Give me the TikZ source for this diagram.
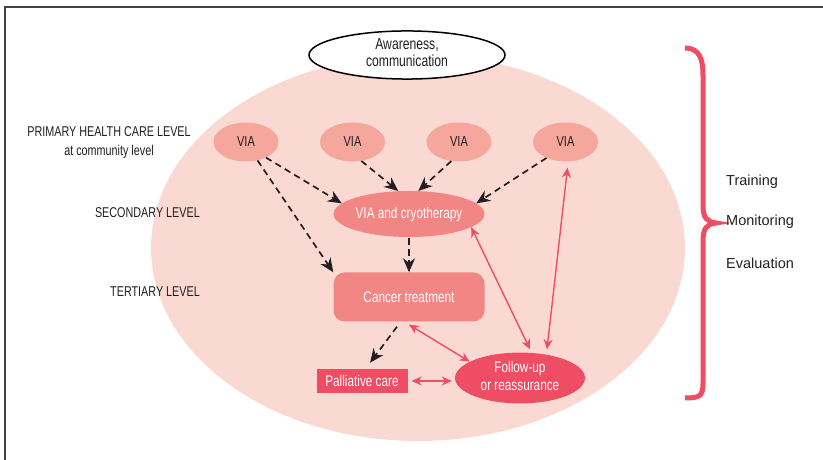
\documentclass[tikz,border=0pt]{standalone}
\usepackage{fontspec}
\setmainfont{Liberation Sans}
\newfontfamily\narrowfont{Liberation Sans}[FakeStretch=0.76]
\usetikzlibrary{arrows.meta,shapes.geometric}
\usetikzlibrary{positioning}

\definecolor{bgpink}{RGB}{251,217,211}
\definecolor{viapink}{RGB}{245,166,157}
\definecolor{midpink}{RGB}{241,134,132}
\definecolor{deeppink}{RGB}{238,77,99}
\definecolor{inkgray}{RGB}{35,31,32}

\tikzset{
  via/.style={ellipse, fill=viapink, minimum width=65pt, minimum height=39pt,
    inner sep=0pt, text=inkgray, font=\narrowfont\fontsize{14.5}{16}\selectfont},
  treat/.style={fill=midpink, inner sep=0pt, text=white,
    font=\narrowfont\fontsize{15.5}{18}\selectfont},
  urgent/.style={fill=deeppink, inner sep=0pt, text=white,
    font=\narrowfont\fontsize{15.5}{18}\selectfont},
  level/.style={text=inkgray, inner sep=0pt, font=\narrowfont\fontsize{14.2}{19}\selectfont},
  task/.style={text=inkgray, inner sep=0pt, anchor=west, font=\fontsize{14.5}{17}\selectfont},
  refer/.style={-{Stealth[length=14pt,width=12pt]}, color=inkgray, line width=1.7pt,
    dash pattern=on 6.5pt off 4.5pt},
  link/.style={{Stealth[length=10pt,width=9pt]}-{Stealth[length=10pt,width=9pt]},
    color=deeppink, line width=1.4pt}
}

\begin{document}
\begin{tikzpicture}[x=1pt, y=1pt]
    \useasboundingbox (0,0) rectangle (823,460);
    \fill[white] (0,0) rectangle (823,460);
    \draw[inkgray!85, line width=1.5pt] (5,0) -- (5,453) -- (823,453);

    % BACKGROUND
    \fill[bgpink] (418,212) ellipse [x radius=267pt, y radius=193pt];

    % TOP
    \node[ellipse, draw=black, line width=1.5pt, fill=white,
      minimum width=196pt, minimum height=48pt, inner sep=0pt,
      font=\narrowfont\fontsize{16}{17}\selectfont, text=inkgray] (AWARENESS) at (407,405)
    {
      \begin{tabular}{c}
        Awareness,\\ communication
      \end{tabular}
    };

    % FIRST LAYER
    \node[via] (VIA_A) at (246,318) {VIA};
    \node[via, node distance=106.5pt, right of=VIA_A] (VIA_B) {VIA};
    \node[via, node distance=106.5pt, right of=VIA_B] (VIA_C) {VIA};
    \node[via, node distance=106.5pt, right of=VIA_C] (VIA_D) {VIA};

    % SECOND LAYER
    \node[treat, ellipse, minimum width=148pt, minimum height=46pt] (CRYOTHERAPY) at (409,246)
    {VIA and cryotherapy};

    % THIRD LAYER
    \node[treat, rounded corners=11pt, minimum width=151pt, minimum height=49pt,
      node distance=83pt, below of=CRYOTHERAPY] (CANCER_TREATMENT)
    {Cancer treatment};

    % FOURTH LAYER
    \node[urgent, minimum width=91pt, minimum height=24pt] (PALLIATIVE_CARE) at (362,79)
    {Palliative care};

    \node[urgent, ellipse, minimum width=130pt, minimum height=50pt,
      node distance=158pt, right of=PALLIATIVE_CARE, yshift=3pt] (FOLLOW_UP)
    {
      \begin{tabular}{c}
        Follow-up\\ or reassurance
      \end{tabular}
    };

    % LEVELS
    \node[level, align=center] (PRIMARY_LEVEL) at (109,317)
    {PRIMARY HEALTH CARE LEVEL\\ at community level};
    \node[level, anchor=east] (SECONDARY_LEVEL) at (200,247) {SECONDARY LEVEL};
    \node[level, anchor=east] (TERTIARY_LEVEL) at (200,168) {TERTIARY LEVEL};

    % BRACE
    \draw[deeppink, line width=5pt]
      (685,412) .. controls (700,412) and (703,400) .. (703,385) -- (703,255)
      .. controls (703,242) and (707,238) .. (716,237)
      .. controls (707,236) and (703,232) .. (703,219) -- (703,77)
      .. controls (703,64) and (700,62) .. (685,62);
    \node[task] (TRAINING) at (726,278) {Training};
    \node[task] (MONITORING) at (726,238) {Monitoring};
    \node[task] (EVALUATION) at (726,197) {Evaluation};

    % LINES
    \path[refer]
    (VIA_A.-38) edge (CRYOTHERAPY.171)
    (VIA_A.-58) edge (CANCER_TREATMENT.north west)
    (VIA_B.-65) edge (CRYOTHERAPY.115)
    (VIA_C.-112) edge (CRYOTHERAPY.68)
    (VIA_D.-140) edge (CRYOTHERAPY.9)
    ([yshift=-1pt]CRYOTHERAPY.south) edge (CANCER_TREATMENT.north)
    ([xshift=-12pt,yshift=-5pt]CANCER_TREATMENT.south) edge ([xshift=8pt,yshift=6pt]PALLIATIVE_CARE.north)
    ;
    \path[link]
    (CRYOTHERAPY.-12) edge ([xshift=10pt,yshift=3pt]FOLLOW_UP.north)
    ([xshift=2pt,yshift=-6pt]VIA_D.south) edge ([xshift=27pt,yshift=3pt]FOLLOW_UP.north)
    ([yshift=-3pt]CANCER_TREATMENT.south) edge (FOLLOW_UP.162)
    ([xshift=4pt]PALLIATIVE_CARE.east) edge ([xshift=-3pt]PALLIATIVE_CARE.east -| FOLLOW_UP.west)
    ;
\end{tikzpicture}
\end{document}
